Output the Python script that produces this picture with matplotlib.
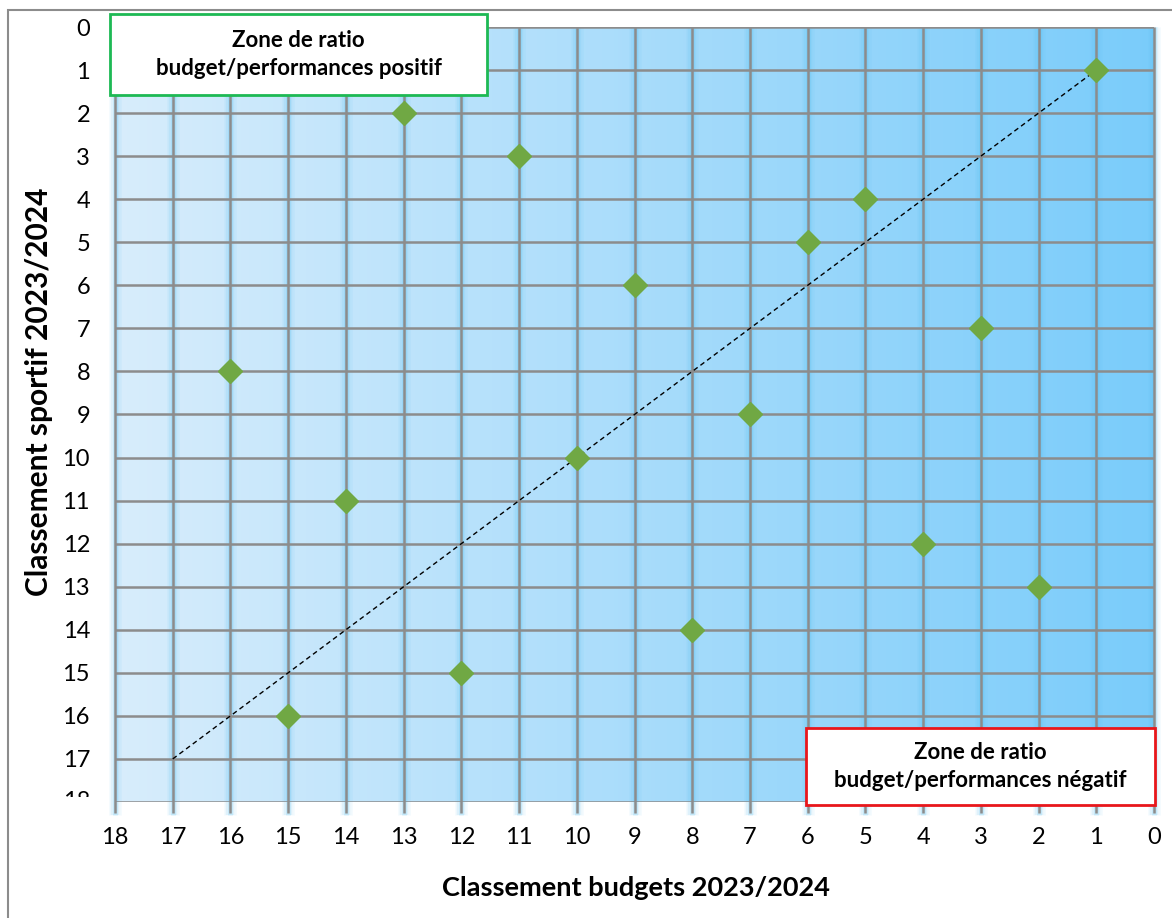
import numpy as np
import matplotlib
matplotlib.use("Agg")
import matplotlib.pyplot as plt
from matplotlib.patches import Rectangle
from matplotlib.transforms import Bbox

plt.rcParams['font.family'] = ['Lato', 'DejaVu Sans']

# Data: (budget rank, sport rank)
budget_rank = [1, 13, 11, 5, 6, 9, 3, 16, 7, 10, 14, 4, 2, 8, 12, 15]
sport_rank = [1, 2, 3, 4, 5, 6, 7, 8, 9, 10, 11, 12, 13, 14, 15, 16]
diag_x = [17, 1]
diag_y = [17, 1]
x_ticks = list(range(0, 19))
y_ticks = list(range(0, 18))

W, H = 1172, 918
fig = plt.figure(figsize=(W / 100, H / 100), dpi=100)
AX_L, AX_R, AX_T, AX_B = 115, 1154, 27, 802
ax = fig.add_axes([AX_L / W, 1 - AX_B / H, (AX_R - AX_L) / W, (AX_B - AX_T) / H])
ax.set_xlim(18, 0)
ax.set_ylim(18, 0)

# gradient background
grad = np.linspace(0, 1, 256)[None, :]
c0 = np.array([216, 237, 252]) / 255
c1 = np.array([122, 204, 250]) / 255
img = c0[None, None, :] * (1 - grad[..., None]) + c1[None, None, :] * grad[..., None]
ax.imshow(img, extent=[18, 0, 18, 0], aspect='auto', zorder=0)

# grid lines with glow
for xv in x_ticks:
    for lw, a in [(9, 0.08), (6, 0.12), (3.5, 0.2)]:
        ax.plot([xv, xv], [0, 18.3], color='#55bff0', lw=lw, alpha=a,
                zorder=1, clip_on=False, solid_capstyle='butt')
    ax.plot([xv, xv], [0, 18.25], color='#8c8c8c', lw=1.8, zorder=2,
            clip_on=False, solid_capstyle='butt')
for yv in range(0, 19):
    ax.plot([18, 0], [yv, yv], color='#8c8c8c', lw=1.8, zorder=2,
            solid_capstyle='butt')

for s in ax.spines.values():
    s.set_visible(False)

ax.set_xticks(x_ticks)
ax.tick_params(axis='x', length=0, labelbottom=False)
ax.set_yticks(y_ticks)
ax.set_yticklabels([str(v) for v in y_ticks], fontsize=17)
ax.yaxis.set_tick_params(length=0, pad=18)

# x tick labels placed below the plot
for xv in x_ticks:
    ax.text(xv, -(838 - AX_B) / (AX_B - AX_T), str(xv),
            transform=ax.get_xaxis_transform(), fontsize=17,
            ha='center', va='center')

# partially hidden '18' label
t18 = ax.text(-25 / (AX_R - AX_L), 18, '18', transform=ax.get_yaxis_transform(),
              fontsize=17, ha='right', va='center')
t18.set_clip_box(Bbox.from_extents(0, H - 797, W, H))
t18.set_clip_on(True)

# diagonal
ax.plot(diag_x, diag_y, color='black', lw=1.0, ls=(0, (3.5, 2.5)), zorder=3)

# points
ax.plot(budget_rank, sport_rank, ls='none', marker='D', ms=12,
        color='#70a844', markeredgecolor='#70a844', zorder=4)

fig.text(636 / W, 1 - 888 / H, 'Classement budgets 2023/2024', fontsize=19.5,
         fontweight='bold', ha='center', va='center')
fig.text(39 / W, 1 - 392 / H, 'Classement sportif 2023/2024', fontsize=21.5,
         fontweight='bold', ha='center', va='center', rotation=90)

# annotation boxes (figure pixel coordinates)
def box(x0, y0, x1, y1, ec, text):
    r = Rectangle((x0 / W, 1 - y1 / H), (x1 - x0) / W, (y1 - y0) / H,
                  transform=fig.transFigure, facecolor='white', edgecolor=ec,
                  lw=2, zorder=10)
    fig.patches.append(r)
    fig.text((x0 + x1) / 2 / W, 1 - (y0 + y1) / 2 / H, text, ha='center',
             va='center', fontsize=16, fontweight='bold', linespacing=1.45,
             zorder=11)

box(110, 14, 487, 95, '#1db954', 'Zone de ratio\nbudget/performances positif')
box(806, 728, 1155, 805, '#e8161b', 'Zone de ratio\nbudget/performances négatif')

# outer border
border = Rectangle((8 / W, -0.01), 1.02, 1 - 10 / H + 0.01, transform=fig.transFigure,
                   facecolor='none', edgecolor='#8c8c8c', lw=1.5)
fig.patches.append(border)

fig.savefig('out.png', dpi=100)
